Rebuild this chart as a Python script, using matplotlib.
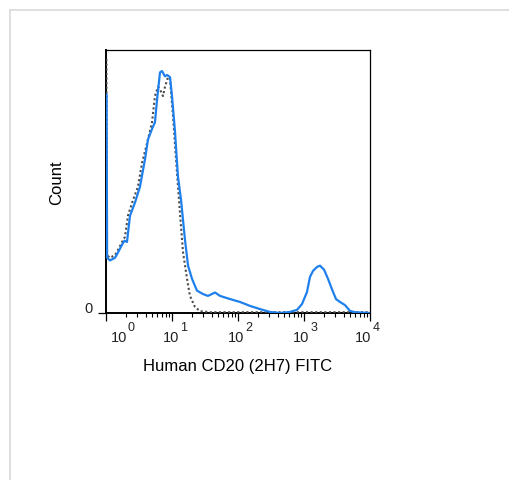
import matplotlib
matplotlib.use("Agg")
import matplotlib.pyplot as plt
from matplotlib.lines import Line2D
from matplotlib.ticker import LogLocator, NullFormatter

plt.rcParams['font.family'] = ['Liberation Sans', 'DejaVu Sans']

# stained sample (blue), intensity vs normalized count
blue_x = [1.02, 1.04, 1.15, 1.37, 1.52, 1.75, 1.91, 2.08, 2.31, 2.75, 3.27, 3.90,
          4.33, 4.98, 5.52, 5.93, 6.58, 7.05, 7.83, 8.40, 9.33, 10.0, 11.1, 12.3,
          13.7, 15.7, 17.5, 20.1, 23.9, 29.5, 35.1, 44.9, 53.4, 75.7, 107, 152,
          215, 305, 433, 613, 783, 933, 1110, 1231, 1369, 1574, 1746, 2009, 2310,
          2656, 3054, 3511, 4180, 4977, 5926, 10000]
blue_y = [83, 21, 20, 21, 23, 26, 27.5, 27, 37, 42, 48, 58.5,
          66, 70, 72.5, 81, 91.5, 92, 90, 90.5, 89.7, 82.5, 69, 52,
          43, 28, 18, 13, 8.5, 7.2, 6.5, 7.8, 6.5, 5.3, 4.2, 2.7,
          1.5, 0.4, 0, 0.4, 1.2, 3.4, 8, 13.7, 16, 17.5, 18, 16.5, 13,
          9, 5.3, 4.2, 3, 0.8, 0.3, 0]

# isotype control (gray dotted)
gray_x = [1.015, 1.03, 1.15, 1.37, 1.52, 1.75, 1.94, 2.15, 2.57, 3.05, 3.51, 4.33,
          4.98, 5.52, 6.14, 6.58, 7.30, 7.83, 8.70, 9.33, 10.35, 11.5, 13.2, 14.7,
          16.9, 18.7, 22.3, 26.6, 37.6, 10000]
gray_y = [96.5, 22, 21, 22, 24, 27, 29, 37, 43, 48, 57, 66,
          72.5, 82.5, 86, 85, 82.5, 86, 89.7, 89, 75, 58.5, 38, 23,
          13, 6.5, 2.3, 0.7, 0.3, 0.3]

decades = [0, 1, 2, 3, 4]
label_x = [2.09, 13.0, 125, 1220, 10600]

fig = plt.figure(figsize=(5.1, 4.81), dpi=100)
ax = fig.add_axes([106 / 510, 1 - 314 / 481, 264 / 510, 263 / 481])

ax.plot(gray_x, gray_y, color='#4a4a4a', lw=1.5, linestyle=(0, (1, 1.2)), zorder=3)
ax.plot(blue_x, blue_y, color='#1f80ec', lw=1.6, zorder=3)

ax.set_xscale('log')
ax.set_xlim(1, 10000)
ax.set_ylim(0, 100)

ax.xaxis.set_major_locator(LogLocator(base=10, numticks=10))
ax.xaxis.set_minor_locator(LogLocator(base=10, subs=range(2, 10), numticks=20))
ax.xaxis.set_major_formatter(NullFormatter())
ax.xaxis.set_minor_formatter(NullFormatter())
ax.tick_params(axis='x', which='major', length=5.5, width=0.9, direction='out', color='black')
ax.tick_params(axis='x', which='minor', length=3, width=0.8, direction='out', color='black')
ax.set_yticks([0])
ax.set_yticklabels([])
ax.tick_params(axis='y', length=6, width=0.9, color='black')

for s in ax.spines.values():
    s.set_color('black')
    s.set_linewidth(0.9)
ax.spines['left'].set_linewidth(1.4)
ax.spines['bottom'].set_linewidth(1.4)

for d, lx in zip(decades, label_x):
    ax.text(lx, -0.066, '10', transform=ax.get_xaxis_transform(), ha='right', va='top',
            fontsize=10.5, color='#222222')
    ax.text(lx * 1.03, -0.032, str(d), transform=ax.get_xaxis_transform(), ha='left',
            va='top', fontsize=9, color='#222222')

ax.text(-0.05, 0.018, '0', transform=ax.transAxes, ha='right', va='center',
        fontsize=10.5, color='#222222')

fig.text(57 / 510, 1 - 183 / 481, 'Count', rotation=90, ha='center', va='center', fontsize=12)
fig.text(237.5 / 510, 1 - 367 / 481, 'Human CD20 (2H7) FITC', ha='center', va='center',
         fontsize=12)

# light frame of the panel
fig.add_artist(Line2D([10 / 510, 1], [1 - 11 / 481, 1 - 11 / 481], color='#dcdcdc', lw=1.3))
fig.add_artist(Line2D([10 / 510, 10 / 510], [0, 1 - 11 / 481], color='#dcdcdc', lw=1.3))

fig.savefig('out.png', dpi=100)
